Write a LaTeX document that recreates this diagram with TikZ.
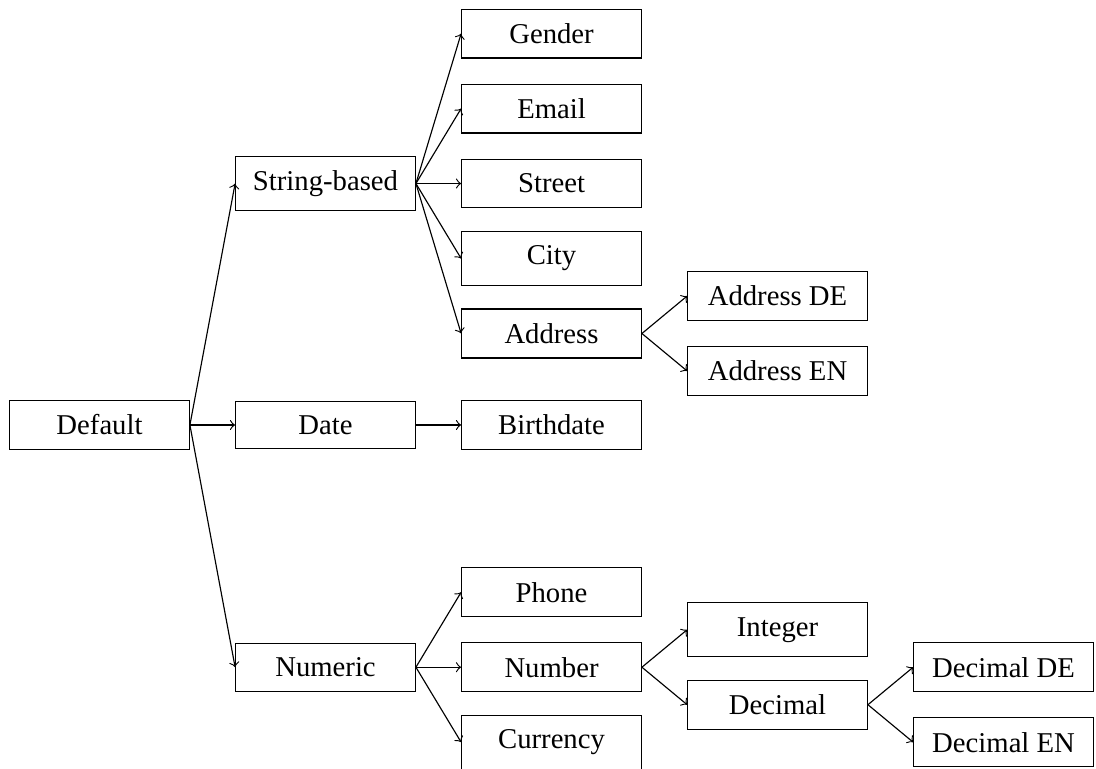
\documentclass[tikz,border=0pt]{standalone}
\usepackage{fontspec}
\setmainfont{Liberation Serif}

\begin{document}
\begin{tikzpicture}[x=78.75pt,y=26.13pt,
  casella/.style={draw,line width=0.4pt,minimum width=2.2cm,inner sep=5pt},
  freccia/.style={->,line width=0.4pt}]
  \useasboundingbox (-0.4403,-4.587) rectangle (4.409,5.667);
  % nodi: nome / colonna / riga / testo
  \foreach \nome/\x/\y/\testo in {
    default/0/0/Default,
    stringa/1/3.22/String-based, data/1/0/Date, numerico/1/-3.23/Numeric,
    gender/2/5.22/Gender, email/2/4.22/Email, street/2/3.22/Street,
    city/2/2.22/City, address/2/1.22/Address, birthdate/2/0/Birthdate,
    phone/2/-2.23/Phone, number/2/-3.23/Number, currency/2/-4.23/Currency,
    addressde/3/1.72/Address DE, addressen/3/0.72/Address EN,
    integer/3/-2.73/Integer, decimal/3/-3.73/Decimal,
    decimalde/4/-3.23/Decimal DE, decimalen/4/-4.23/Decimal EN}{
    \node[casella] (\nome) at (\x,\y) {\testo};
  }
  % collegamenti genitore -> figlio
  \foreach \a/\b in {
    default/stringa, default/data, default/numerico,
    stringa/gender, stringa/email, stringa/street, stringa/city, stringa/address,
    address/addressde, address/addressen, data/birthdate,
    numerico/phone, numerico/number, numerico/currency,
    number/integer, number/decimal, decimal/decimalde, decimal/decimalen}{
    \draw[freccia] (\a.east) -- (\b.west);
  }
\end{tikzpicture}
\end{document}
